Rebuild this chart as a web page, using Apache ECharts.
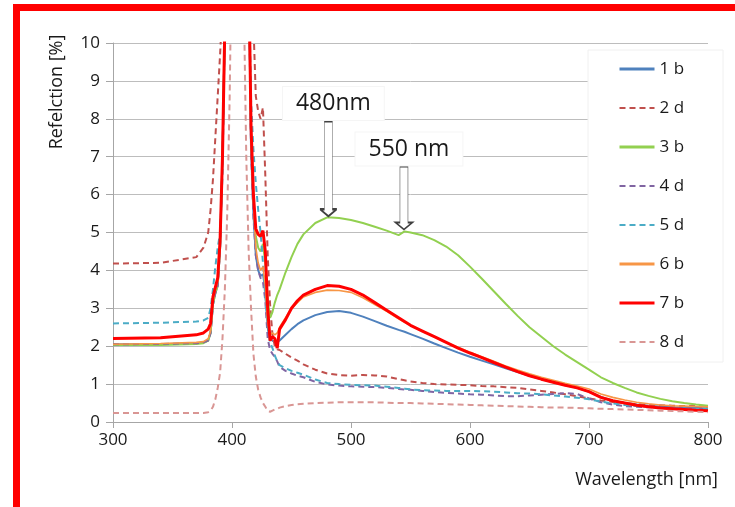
<!DOCTYPE html>
<html>
<head>
    <meta charset="UTF-8">
    <script type="text/javascript" src="https://cdn.jsdelivr.net/npm/echarts@6/dist/echarts.min.js"></script>
    <style>
        html, body {margin: 0; padding: 0; background: #fff;}
    </style>
</head>
<body>
<div id="myDiv" style="width: 735px; height: 507px;"></div>
<script type="text/javascript">
    // wavelength grid [nm], finer around the lamp peak
    var wl = [300, 340, 370, 376, 380, 382, 384, 386, 388, 390, 392, 394, 396, 398, 400, 402, 404, 406, 408, 410,
        412, 414, 416, 418, 420, 422, 424, 426, 428, 430, 432, 434, 436, 438, 440, 445, 450, 455, 460, 470,
        480, 490, 500, 510, 520, 530, 540, 545, 550, 560, 570, 580, 590, 600, 610, 620, 630, 640, 650, 660,
        670, 680, 690, 700, 710, 720, 730, 740, 750, 760, 770, 780, 790, 800];

    var s1b = [2.05, 2.05, 2.08, 2.1, 2.15, 2.35, 3.1, 3.4, 3.6, 4.6, 7, 10.5, 30, 30, 30, 30, 30, 30, 30, 30,
        30, 12, 7.2, 5.5, 4.4, 4.0, 3.85, 3.9, 3.5, 2.5, 2.2, 2.15, 2.1, 2.12, 2.15, 2.3, 2.45, 2.58, 2.68, 2.82,
        2.9, 2.93, 2.88, 2.78, 2.66, 2.54, 2.43, 2.38, 2.32, 2.2, 2.07, 1.95, 1.83, 1.72, 1.62, 1.52, 1.42, 1.32, 1.22, 1.13,
        1.05, 0.97, 0.9, 0.8, 0.66, 0.56, 0.5, 0.46, 0.43, 0.41, 0.39, 0.38, 0.37, 0.36];

    var s2d = [4.18, 4.2, 4.35, 4.6, 5.0, 5.6, 6.4, 7.5, 8.6, 9.7, 11, 14, 30, 30, 30, 30, 30, 30, 30, 30,
        30, 30, 14, 10.5, 8.6, 8.2, 8.0, 8.3, 6.5, 4.4, 3.1, 2.3, 2.0, 1.92, 1.9, 1.8, 1.7, 1.62, 1.52, 1.38,
        1.28, 1.24, 1.22, 1.24, 1.23, 1.2, 1.13, 1.1, 1.07, 1.03, 1.0, 0.99, 0.98, 0.97, 0.95, 0.94, 0.92, 0.9, 0.86, 0.82,
        0.78, 0.73, 0.68, 0.62, 0.57, 0.53, 0.5, 0.47, 0.45, 0.44, 0.43, 0.42, 0.42, 0.42];

    var s3b = [2.03, 2.03, 2.06, 2.08, 2.15, 2.35, 3.1, 3.4, 3.6, 4.6, 7, 10.5, 30, 30, 30, 30, 30, 30, 30, 30,
        30, 12, 7.6, 5.9, 4.9, 4.6, 4.5, 4.7, 4.2, 3.2, 2.75, 2.9, 3.15, 3.35, 3.5, 3.95, 4.35, 4.7, 4.95, 5.25,
        5.4, 5.38, 5.33, 5.25, 5.15, 5.05, 4.93, 5.03, 5.0, 4.93, 4.8, 4.63, 4.4, 4.1, 3.78, 3.45, 3.12, 2.8, 2.5, 2.25,
        2.0, 1.78, 1.58, 1.38, 1.18, 1.03, 0.9, 0.78, 0.69, 0.61, 0.55, 0.5, 0.46, 0.43];

    var s4d = [2.05, 2.06, 2.08, 2.1, 2.15, 2.35, 3.1, 3.4, 3.6, 4.6, 7, 10.5, 30, 30, 30, 30, 30, 30, 30, 30,
        30, 12, 7.2, 5.4, 4.4, 4.0, 3.8, 3.7, 3.2, 2.2, 1.9, 1.8, 1.72, 1.6, 1.45, 1.35, 1.28, 1.22, 1.18, 1.06,
        0.99, 0.96, 0.94, 0.93, 0.92, 0.9, 0.87, 0.86, 0.85, 0.82, 0.79, 0.77, 0.75, 0.73, 0.72, 0.7, 0.68, 0.68, 0.7, 0.72,
        0.74, 0.76, 0.74, 0.62, 0.52, 0.46, 0.42, 0.4, 0.39, 0.38, 0.37, 0.37, 0.37, 0.37];

    var s5d = [2.6, 2.62, 2.65, 2.68, 2.75, 3.0, 3.5, 4.1, 4.6, 5.0, 6.5, 10.5, 30, 30, 30, 30, 30, 30, 30, 30,
        30, 12, 8.5, 7.2, 6.3, 5.6, 5.0, 4.2, 3.3, 2.5, 2.1, 1.95, 1.75, 1.6, 1.5, 1.42, 1.35, 1.3, 1.25, 1.12,
        1.03, 1.0, 0.98, 0.97, 0.96, 0.93, 0.9, 0.88, 0.86, 0.84, 0.83, 0.82, 0.82, 0.82, 0.81, 0.8, 0.78, 0.76, 0.75, 0.73,
        0.7, 0.67, 0.64, 0.6, 0.54, 0.49, 0.45, 0.42, 0.4, 0.38, 0.36, 0.35, 0.34, 0.34];

    var s6b = [2.05, 2.07, 2.1, 2.12, 2.2, 2.4, 3.2, 3.5, 3.7, 4.7, 7, 10.5, 30, 30, 30, 30, 30, 30, 30, 30,
        30, 12, 7.5, 5.8, 4.6, 4.2, 4.0, 4.1, 3.6, 2.6, 2.3, 2.35, 2.3, 2.35, 2.5, 2.75, 3.0, 3.15, 3.3, 3.42,
        3.48, 3.47, 3.42, 3.28, 3.1, 2.92, 2.72, 2.63, 2.55, 2.4, 2.25, 2.1, 1.97, 1.84, 1.72, 1.6, 1.48, 1.37, 1.27, 1.18,
        1.1, 1.02, 0.95, 0.87, 0.74, 0.65, 0.58, 0.52, 0.48, 0.45, 0.43, 0.42, 0.41, 0.4];

    var s7b = [2.2, 2.22, 2.3, 2.35, 2.45, 2.6, 3.3, 3.55, 3.8, 4.8, 7, 10.5, 30, 30, 30, 30, 30, 30, 30, 30,
        30, 12, 7.8, 6.0, 5.1, 4.95, 4.9, 5.05, 4.5, 3.0, 2.15, 2.25, 2.2, 1.95, 2.45, 2.7, 3.0, 3.2, 3.35, 3.5,
        3.6, 3.58, 3.5, 3.35, 3.15, 2.95, 2.75, 2.65, 2.55, 2.4, 2.25, 2.1, 1.95, 1.82, 1.7, 1.57, 1.45, 1.33, 1.22, 1.13,
        1.05, 0.97, 0.9, 0.8, 0.65, 0.56, 0.5, 0.44, 0.4, 0.37, 0.35, 0.33, 0.31, 0.3];

    var s8d = [0.24, 0.24, 0.24, 0.24, 0.26, 0.3, 0.4, 0.6, 0.9, 1.3, 2.2, 3.5, 5.5, 8.5, 13, 30, 30, 30, 16, 11,
        7, 4.5, 3.0, 1.8, 1.2, 0.85, 0.65, 0.5, 0.4, 0.3, 0.27, 0.3, 0.33, 0.35, 0.38, 0.42, 0.45, 0.47, 0.48, 0.5,
        0.51, 0.52, 0.52, 0.52, 0.52, 0.51, 0.5, 0.5, 0.5, 0.49, 0.48, 0.47, 0.46, 0.45, 0.44, 0.43, 0.42, 0.41, 0.4, 0.39,
        0.38, 0.38, 0.37, 0.36, 0.35, 0.34, 0.33, 0.32, 0.31, 0.3, 0.29, 0.28, 0.27, 0.26];

    var names = ['1 b', '2 d', '3 b', '4 d', '5 d', '6 b', '7 b', '8 d'];
    var colors = ['#4F81BD', '#C0504D', '#92D050', '#8064A2', '#4BACC6', '#F79646', '#FF0000', '#D99694'];
    var dashed = [false, true, false, true, true, false, false, true];
    var widths = [2, 2, 2, 2, 2, 1.6, 3, 2];
    var values = [s1b, s2d, s3b, s4d, s5d, s6b, s7b, s8d];

    // arrow annotations on the 3 b curve
    var arrowText = ['480nm', '550 nm'];
    var arrowX = [481, 544.5];
    var arrowY = [5.43, 5.08];
    var arrowLen = [95, 63];

    var font = "'Open Sans', sans-serif";

    function arrowPath(h) {
        var b = h - 7;
        return 'path://M4,0 L12,0 L12,' + b + ' L16.5,' + b + ' L8,' + h + ' L-0.5,' + b + ' L4,' + b + ' Z';
    }

    function pairs(arr) {
        var out = [];
        for (var i = 0; i < wl.length; i++) {
            out.push([wl[i], arr[i]]);
        }
        return out;
    }

    var series = [];
    var legendData = [];
    for (var i = 0; i < names.length; i++) {
        series.push({
            name: names[i],
            type: 'line',
            symbol: 'none',
            clip: true,
            data: pairs(values[i]),
            lineStyle: {
                color: colors[i],
                width: widths[i],
                type: dashed[i] ? [6, 4] : 'solid'
            },
            itemStyle: {color: colors[i]}
        });
        legendData.push({
            name: names[i],
            itemStyle: {opacity: 0},
            lineStyle: {width: dashed[i] ? 2 : 3}
        });
    }

    var marks = [];
    for (var k = 0; k < arrowText.length; k++) {
        marks.push({
            coord: [arrowX[k], arrowY[k]],
            symbol: arrowPath(arrowLen[k]),
            symbolSize: [17, arrowLen[k]],
            symbolOffset: [0, '-50%'],
            label: {formatter: arrowText[k]}
        });
    }
    series[2].markPoint = {
        silent: true,
        symbolKeepAspect: false,
        itemStyle: {color: '#fff', borderColor: '#404040', borderWidth: 1},
        label: {
            show: true,
            position: 'top',
            distance: 0,
            offset: [5, 0],
            color: '#1a1a1a',
            fontFamily: font,
            fontSize: 23,
            backgroundColor: '#fff',
            borderColor: '#f5f5f5',
            borderWidth: 1,
            padding: [5, 13]
        },
        data: marks
    };

    var chart = echarts.init(document.getElementById('myDiv'));
    var option = {
        animation: false,
        backgroundColor: '#fff',
        grid: {left: 113, right: 27, top: 43, bottom: 85},
        xAxis: {
            type: 'value',
            min: 300,
            max: 800,
            interval: 100,
            axisLine: {show: true, lineStyle: {color: '#a6a6a6', width: 1}},
            axisTick: {show: true, length: 6, lineStyle: {color: '#a6a6a6'}},
            axisLabel: {color: '#1a1a1a', fontSize: 17, fontFamily: font, margin: 10},
            splitLine: {show: false}
        },
        yAxis: {
            type: 'value',
            min: 0,
            max: 10,
            interval: 1,
            axisLine: {show: true, lineStyle: {color: '#a6a6a6', width: 1}},
            axisTick: {show: true, length: 7, lineStyle: {color: '#a6a6a6'}},
            axisLabel: {color: '#1a1a1a', fontSize: 17, fontFamily: font, margin: 13},
            splitLine: {show: true, lineStyle: {color: '#bdbdbd', width: 1}}
        },
        legend: {
            orient: 'vertical',
            left: 588,
            top: 50,
            padding: [9, 39, 10, 30],
            itemWidth: 35,
            itemHeight: 20,
            itemGap: 19,
            backgroundColor: '#fff',
            borderColor: '#f0f0f0',
            borderWidth: 1,
            textStyle: {fontSize: 17, color: '#1a1a1a', fontFamily: font, lineHeight: 20},
            data: legendData
        },
        graphic: [
            {type: 'rect', shape: {x: 14, y: 4, width: 721, height: 7}, style: {fill: '#ff0000'}, z: 100},
            {type: 'rect', shape: {x: 13, y: 4, width: 7, height: 503}, style: {fill: '#ff0000'}, z: 100},
            {
                type: 'text', x: 57, y: 92, rotation: Math.PI / 2,
                style: {text: 'Refelction [%]', align: 'center', verticalAlign: 'middle',
                    font: "18px 'Open Sans', sans-serif", fill: '#1a1a1a'}
            },
            {
                type: 'text', x: 718, y: 480,
                style: {text: 'Wavelength [nm]', align: 'right', verticalAlign: 'middle',
                    font: "18px 'Open Sans', sans-serif", fill: '#1a1a1a'}
            }
        ],
        series: series
    };
    chart.setOption(option);
</script>
</body>
</html>
